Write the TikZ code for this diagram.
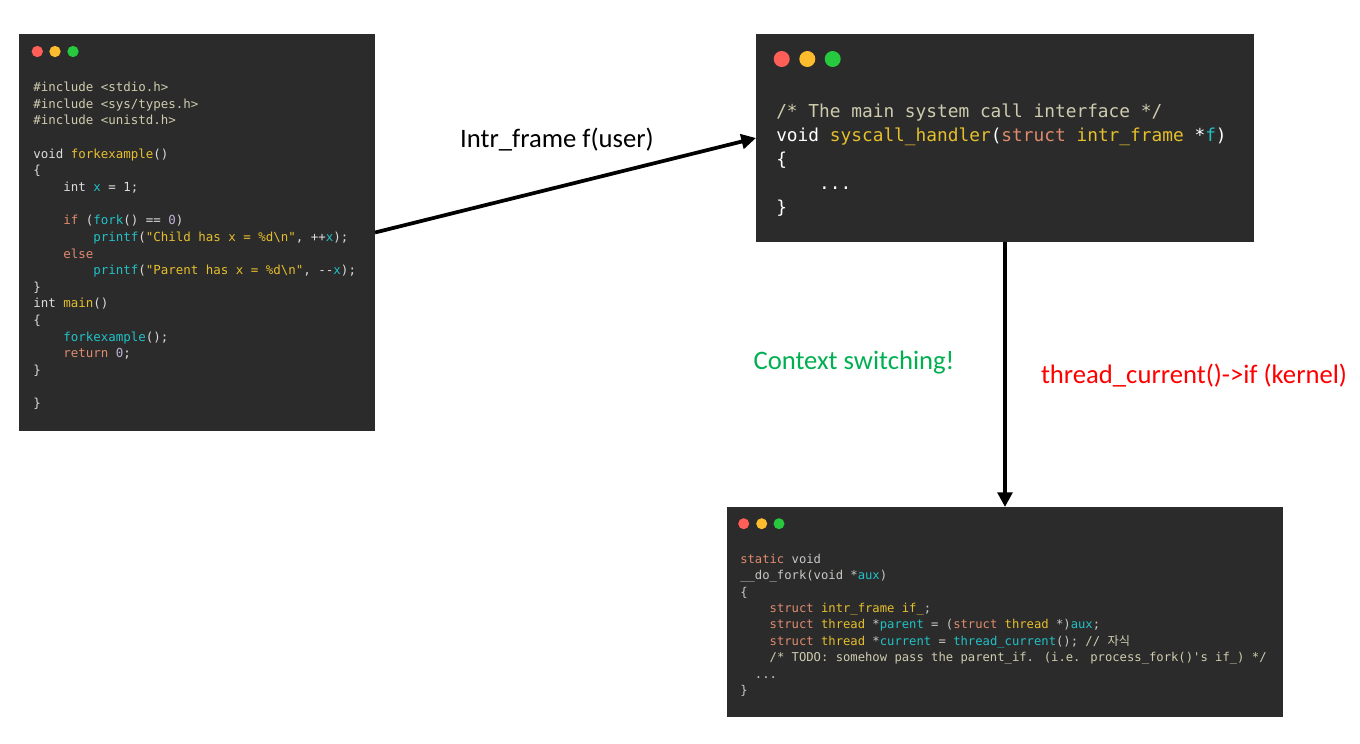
\documentclass[tikz,border=0pt]{standalone}
\usepackage{fontspec}
\setmainfont{Carlito}
\newfontfamily\codefont{DejaVu Sans Mono}
\newfontfamily\krfont{Noto Sans CJK KR}
\usetikzlibrary{arrows.meta}
\definecolor{boxbg}{HTML}{2B2B2B}
\definecolor{cdef}{HTML}{DCDCDC}
\definecolor{cdefc}{HTML}{C8C8C4}
\definecolor{ccm}{HTML}{CFCCAE}
\definecolor{ckw}{HTML}{E08A6E}
\definecolor{cfn}{HTML}{E6BF2C}
\definecolor{cvr}{HTML}{22C1C6}
\definecolor{cnm}{HTML}{BFB0D4}
\definecolor{dotred}{HTML}{FF5F56}
\definecolor{dotyel}{HTML}{FFBD2E}
\definecolor{dotgrn}{HTML}{27C93F}
\definecolor{lblgreen}{HTML}{00B050}
\definecolor{lblred}{HTML}{FF0000}
\newcommand\Cm[1]{\textcolor{ccm}{#1}}
\newcommand\Kw[1]{\textcolor{ckw}{#1}}
\newcommand\Fn[1]{\textcolor{cfn}{#1}}
\newcommand\Vr[1]{\textcolor{cvr}{#1}}
\newcommand\Nm[1]{\textcolor{cnm}{#1}}
\begin{document}
\begin{tikzpicture}[x=0.75pt,y=-0.75pt,
  codebox/.style={fill=boxbg,draw=none,inner sep=0pt,outer sep=0pt,anchor=north west},
  dotR/.style={circle,fill=dotred,draw=none,inner sep=0pt},
  dotY/.style={circle,fill=dotyel,draw=none,inner sep=0pt},
  dotG/.style={circle,fill=dotgrn,draw=none,inner sep=0pt},
  codeA/.style={anchor=base west,inner sep=0pt,text=cdef,font=\codefont\fontsize{9.35}{11}\selectfont},
  codeB/.style={anchor=base west,inner sep=0pt,text=white,font=\codefont\fontsize{13.36}{16}\selectfont},
  codeC/.style={anchor=base west,inner sep=0pt,text=cdefc,font=\codefont\fontsize{9.15}{11}\selectfont},
  lbl/.style={anchor=base,inner sep=0pt,font=\fontsize{20}{24}\selectfont},
  arr/.style={line width=2.8pt,-{Triangle[length=11pt,width=11pt]}}]
\fill[white] (0,0) rectangle (1360,743);
\useasboundingbox (0,0) rectangle (1360,743);

% ---------- Box A ----------
\node[codebox,minimum width=267pt,minimum height=297.75pt] (boxA) at (19,34) {};
\node[dotR,minimum size=8.5pt] (aR) at (37.3,51.5) {};
\node[dotY,minimum size=8.5pt] (aY) at (55,51.5) {};
\node[dotG,minimum size=8.5pt] (aG) at (73,51.5) {};
\node[codeA] (a0) at (33,91.5) {\Cm{\#include <stdio.h>}};
\node[codeA] (a1) at (33,108.15) {\Cm{\#include <sys/types.h>}};
\node[codeA] (a2) at (33,124.8) {\Cm{\#include <unistd.h>}};
\node[codeA] (a4) at (33,158.1) {void \Fn{forkexample}()};
\node[codeA] (a5) at (33,174.75) {\{};
\node[codeA] (a6) at (33,191.4) {~~~~int \Vr{x} = 1;};
\node[codeA] (a8) at (33,224.7) {~~~~\Kw{if} (\Vr{fork}() == \Nm{0})};
\node[codeA] (a9) at (33,241.35) {~~~~~~~~\Vr{printf}(\Fn{"Child has x = \%d\textbackslash n"}, ++\Vr{x});};
\node[codeA] (a10) at (33,258) {~~~~\Kw{else}};
\node[codeA] (a11) at (33,274.65) {~~~~~~~~\Vr{printf}(\Fn{"Parent has x = \%d\textbackslash n"}, -{}-\Vr{x});};
\node[codeA] (a12) at (33,291.3) {\}};
\node[codeA] (a13) at (33,307.95) {int \Fn{main}()};
\node[codeA] (a14) at (33,324.6) {\{};
\node[codeA] (a15) at (33,341.25) {~~~~\Vr{forkexample}();};
\node[codeA] (a16) at (33,357.9) {~~~~\Kw{return} \Nm{0};};
\node[codeA] (a17) at (33,374.55) {\}};
\node[codeA] (a19) at (33,407.85) {\}};

% ---------- Box B ----------
\node[codebox,minimum width=373.5pt,minimum height=156pt] (boxB) at (756,34) {};
\node[dotR,minimum size=12pt] (bR) at (781.7,59) {};
\node[dotY,minimum size=12pt] (bY) at (807.3,59) {};
\node[dotG,minimum size=12pt] (bG) at (832.7,59) {};
\node[codeB] (b0) at (776,117) {\Cm{/* The main system call interface */}};
\node[codeB] (b1) at (776,141) {void \Fn{syscall\_handler}(\Kw{struct} \Fn{intr\_frame} *\Vr{f})};
\node[codeB] (b2) at (776,165) {\{};
\node[codeB] (b3) at (776,189) {~~~~...};
\node[codeB] (b4) at (776,213.3) {\}};

% ---------- Box C ----------
\node[codebox,minimum width=417pt,minimum height=157.5pt] (boxC) at (727,507) {};
\node[dotR,minimum size=8.25pt] (cR) at (743.7,523.7) {};
\node[dotY,minimum size=8.25pt] (cY) at (761.7,523.7) {};
\node[dotG,minimum size=8.25pt] (cG) at (779,523.7) {};
\node[codeC] (c0) at (740,563.3) {\Kw{static} void};
\node[codeC] (c1) at (740,579.7) {\_\_do\_fork(void *\Vr{aux})};
\node[codeC] (c2) at (740,596.1) {\{};
\node[codeC] (c3) at (740,612.5) {~~~~\Kw{struct} \Fn{intr\_frame if\_};};
\node[codeC] (c4) at (740,628.9) {~~~~\Kw{struct} \Fn{thread} *\Vr{parent} = (\Kw{struct} \Fn{thread} *)\Vr{aux};};
\node[codeC] (c5) at (740,645.3) {~~~~\Kw{struct} \Fn{thread} *\Vr{current} = \Vr{thread\_current}(); \Cm{// {\krfont 자식}}};
\node[codeC] (c6) at (740,661.7) {~~~~\Cm{/* TODO: somehow pass the parent\_if. (i.e. process\_fork()'s if\_) */}};
\node[codeC] (c7) at (740,678.1) {~~...};
\node[codeC] (c8) at (740,694.5) {\}};

% ---------- Connectors ----------
\draw[arr] (boxA.east) -- (boxB.west);
\draw[arr] (boxB.south) -- (boxC.north);

% ---------- Labels ----------
\node[lbl] (l1) at (557,147) {Intr\_frame f(user)};
\node[lbl,text=lblgreen] (l2) at (854,369) {Context switching!};
\node[lbl,text=lblred] (l3) at (1194,383) {thread\_current()->if (kernel)};
\end{tikzpicture}
\end{document}
